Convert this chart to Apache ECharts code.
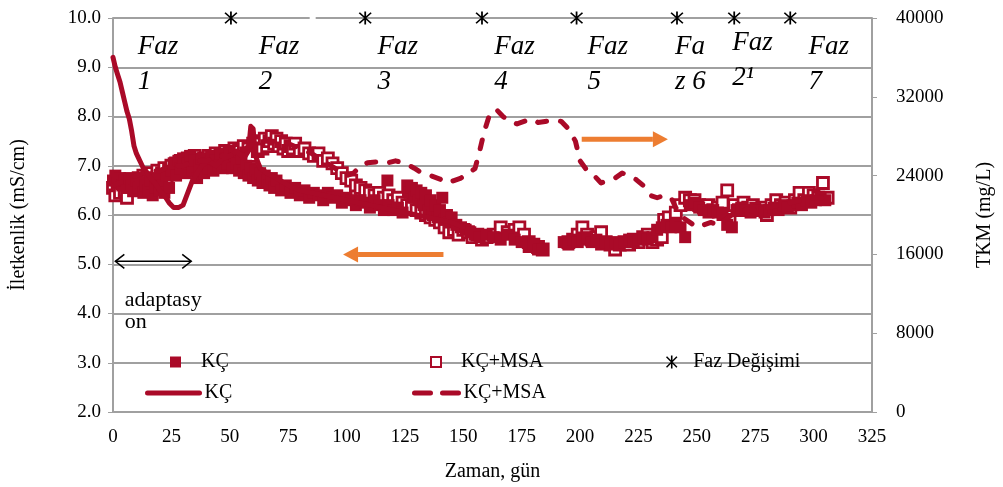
<!DOCTYPE html>
<html><head><meta charset="utf-8">
<script src="https://cdn.jsdelivr.net/npm/echarts@6/dist/echarts.min.js"></script>
<style>html,body{margin:0;padding:0;background:#fff}#c{width:1003px;height:487px}</style>
</head><body><div id="c"></div>
<script>
// Conductivity (mS/cm), left axis: [day, value]
const kcCond = [[0,6.7],[1,6.8],[2,6.65],[3,6.75],[4,6.6],[5,6.7],[6,6.55],[7,6.75],[8,6.6],[9,6.5],[10,6.7],[11,6.55],[12,6.65],[13,6.45],[14,6.6],[15,6.5],[16,6.7],[17,6.4],[18,6.55],[19,6.75],[20,6.5],[21,6.6],[22,6.45],[23,6.8],[24,6.55],[25,6.9],[26,7.05],[27,6.8],[28,7.1],[29,6.95],[30,7.15],[31,6.85],[32,7.05],[33,7.2],[34,6.9],[35,7.1],[36,6.75],[37,7.0],[38,7.15],[39,6.85],[40,7.05],[41,6.95],[42,7.2],[43,6.9],[44,7.1],[45,7.0],[46,7.25],[47,6.95],[48,7.15],[49,7.05],[50,7.3],[51,6.95],[52,7.2],[53,7.05],[54,6.9],[55,7.15],[56,6.85],[57,7.0],[58,6.8],[59,6.95],[60,6.75],[61,6.9],[62,6.7],[63,6.85],[64,6.65],[65,6.8],[66,6.7],[67,6.6],[68,6.75],[69,6.55],[70,6.7],[72,6.5],[74,6.6],[76,6.45],[78,6.55],[80,6.4],[82,6.5],[84,6.35],[86,6.45],[88,6.4],[90,6.3],[92,6.45],[94,6.35],[96,6.4],[98,6.25],[100,6.35],[102,6.3],[104,6.2],[106,6.3],[108,6.25],[110,6.15],[112,6.3],[114,6.2],[116,6.1],[117.5,6.7],[118,6.2],[120,6.1],[122,6.15],[124,6.05],[126,6.6],[127,6.45],[128,6.55],[129,6.35],[130,6.5],[131,6.3],[132,6.45],[133,6.2],[134,6.4],[135,6.1],[136,6.3],[137,6.0],[138,6.2],[139,5.95],[140,6.1],[141,6.35],[142,5.9],[143,6.0],[144,5.85],[145,5.95],[147,5.8],[149,5.75],[151,5.7],[153,5.65],[155,5.6],[157,5.55],[160,5.6],[163,5.55],[166,5.5],[169,5.6],[172,5.5],[175,5.45],[178,5.35],[180,5.4],[182,5.3],[184,5.3],[193,5.45],[195,5.4],[197,5.5],[199,5.45],[201,5.5],[203,5.55],[205,5.45],[207,5.5],[209,5.4],[211,5.45],[213,5.4],[215,5.45],[217,5.4],[219,5.45],[221,5.5],[223,5.45],[225,5.5],[227,5.55],[229,5.5],[231,5.55],[233,5.7],[235,5.75],[237,5.8],[239,5.75],[241,5.8],[243,5.75],[245,5.55],[247,6.2],[249,6.25],[251,6.15],[253,6.1],[255,6.05],[257,6.1],[259,6.05],[261,6.0],[263,5.8],[265,5.75],[267,6.1],[269,6.15],[271,6.1],[273,6.05],[275,6.15],[277,6.1],[279,6.05],[281,6.1],[283,6.15],[285,6.1],[287,6.2],[289,6.15],[291,6.2],[293,6.25],[295,6.2],[297,6.3],[299,6.25],[301,6.3],[303,6.35],[305,6.3]];
const msaCond = [[0,6.55],[1,6.4],[2,6.6],[3,6.45],[4,6.65],[5,6.5],[6,6.35],[7,6.6],[8,6.7],[9,6.5],[10,6.6],[11,6.75],[12,6.55],[13,6.8],[14,6.6],[15,6.7],[16,6.85],[17,6.6],[18,6.75],[19,6.9],[20,6.7],[21,6.85],[22,6.95],[23,6.75],[24,6.9],[25,7.0],[26,6.85],[27,7.05],[28,6.95],[29,7.1],[30,6.9],[31,7.0],[32,7.15],[33,6.95],[34,7.05],[35,7.2],[36,7.0],[37,7.1],[38,6.95],[39,7.15],[40,7.05],[41,7.2],[42,7.0],[43,7.15],[44,7.25],[45,7.05],[46,7.2],[47,7.1],[48,7.3],[49,7.15],[50,7.25],[51,7.1],[52,7.35],[53,7.2],[54,7.3],[55,7.15],[56,7.4],[57,7.25],[58,7.35],[59,7.2],[60,7.45],[61,7.5],[62,7.3],[63,7.45],[64,7.35],[65,7.55],[66,7.4],[67,7.5],[68,7.6],[69,7.45],[70,7.55],[71,7.4],[72,7.5],[73,7.35],[74,7.45],[75,7.3],[76,7.4],[77,7.35],[78,7.45],[80,7.3],[82,7.35],[84,7.25],[86,7.2],[88,7.25],[90,7.1],[92,7.15],[94,7.05],[96,6.95],[98,6.85],[100,6.75],[102,6.7],[104,6.6],[106,6.55],[108,6.5],[110,6.45],[112,6.4],[114,6.45],[116,6.35],[118,6.4],[120,6.3],[122,6.35],[124,6.25],[126,6.2],[128,6.15],[130,6.1],[132,6.05],[134,6.0],[136,5.95],[138,5.9],[140,5.85],[142,5.75],[144,5.65],[146,5.7],[148,5.6],[150,5.7],[152,5.65],[154,5.55],[156,5.6],[158,5.5],[160,5.55],[163,5.6],[166,5.75],[169,5.65],[172,5.7],[174,5.75],[176,5.6],[178,5.45],[180,5.4],[182,5.35],[184,5.3],[195,5.45],[197,5.5],[199,5.6],[201,5.75],[203,5.6],[205,5.5],[207,5.55],[209,5.65],[211,5.45],[213,5.4],[215,5.3],[217,5.4],[219,5.45],[221,5.4],[223,5.5],[225,5.45],[227,5.55],[229,5.6],[231,5.45],[233,5.5],[235,5.55],[236,5.9],[238,5.95],[241,6.05],[243,6.2],[245,6.35],[247,6.3],[249,6.3],[251,6.2],[253,6.15],[255,6.2],[257,6.1],[259,6.15],[261,6.25],[263,6.5],[264,5.9],[266,6.2],[268,6.1],[270,6.25],[272,6.15],[274,6.2],[276,6.1],[278,6.15],[280,6.0],[282,6.2],[284,6.3],[286,6.2],[288,6.25],[290,6.15],[292,6.3],[294,6.45],[296,6.3],[298,6.45],[300,6.4],[302,6.35],[304,6.65],[306,6.35]];
// TKM (mg/L), right axis: [day, value]
const kcTkm = [[0,36000],[1,35000],[2,34250],[3,33500],[4,32500],[5,31500],[6,30500],[7,29750],[8,28500],[9,27000],[10,26250],[11,25750],[12,25250],[13,24750],[14,24500],[16,23750],[18,23250],[20,22500],[22,22000],[24,21250],[26,20750],[28,20750],[30,21000],[32,22250],[34,23500],[36,24250],[38,25000],[41,25500],[44,25000],[47,25750],[50,26000],[53,26500],[56,25750],[58,26500],[59,29000],[60,28750],[61,26000],[63,24750],[66,24250],[70,23750],[75,23000],[80,22500],[85,22250],[90,22000],[95,21750],[100,21500],[105,21250],[110,21000],[115,20750],[120,20500],[125,20250],[130,20000],[135,19750],[140,19500],[145,19250],[150,18750]];
const msaTkm = [[0,23000],[5,23500],[10,24000],[15,24500],[20,24500],[25,25000],[30,25000],[35,25500],[40,25500],[45,26000],[50,26000],[55,26500],[60,27250],[65,27500],[70,27500],[75,27250],[80,26750],[85,26250],[90,25500],[95,24750],[100,24000],[103,24250],[106,25000],[109,25300],[113,25400],[117,25250],[121,25500],[125,25250],[129,24750],[132,24300],[136,24000],[140,23650],[143,23250],[146,23500],[149,23750],[152,24250],[155,24700],[157,26500],[159,28500],[161,30000],[164,30750],[167,30000],[170,29500],[173,29250],[176,29500],[179,29750],[182,29400],[185,29500],[188,29600],[192,29500],[195,28750],[198,27500],[200,25500],[203,24500],[206,24000],[209,23250],[212,23500],[215,23750],[218,24250],[221,24000],[224,23600],[227,23000],[230,22000],[233,21750],[236,22000],[239,21750],[241,20750],[244,19750],[247,19250],[250,18750],[253,19000],[256,19250],[259,19000],[262,19500],[265,20000],[268,20500],[272,20500],[276,20500],[280,20750],[285,21000],[290,21250],[295,21500],[300,21750],[305,21750]];
// Phase change days (drawn on the 10.0 line)
const phaseChangeDays = [50.5, 108, 158, 198.5, 241.5, 266, 290];
const phaseChangeLevel = 10.0;
// Phase labels: first line, second line, day of left edge
const phaseLabelTop = ['Faz','Faz','Faz','Faz','Faz','Fa','Faz','Faz'];
const phaseLabelBottom = ['1','2','3','4','5','z 6','2\u00b9','7'];
const phaseLabelDay = [10.6, 62.4, 113.3, 163.3, 203.2, 240.6, 265.2, 297.8];

const RED = '#AA0A28';
const FONT = 'Liberation Serif';
const GRAY = '#a0a0a0';
const ast = 'path://M4.4,0H5.6V10H4.4Z M0.6,1.4L1.4,0.6L9.4,8.6L8.6,9.4Z M8.6,0.6L9.4,1.4L1.4,9.4L0.6,8.6Z';

const legendText = {fontFamily: FONT, fontSize: 20, color: '#000'};
function mkLegend(name, left, top, w, h, pad, lineType) {
  const l = {data: [name], left: left, top: top, itemWidth: w, itemHeight: h, itemGap: 0,
    textStyle: legendText, formatter: n => pad + n.trim(), selectedMode: false, padding: 0};
  if (lineType) {
    l.itemStyle = {opacity: 0};
    l.lineStyle = {width: 5, color: RED, type: lineType, cap: 'round'};
  }
  return l;
}

const chart = echarts.init(document.getElementById('c'));
const option = {
  animation: false,
  grid: {left: 113, right: 121, top: 18, bottom: 75},
  xAxis: {type: 'value', min: 0, max: 325, interval: 25,
    axisLine: {lineStyle: {color: GRAY, width: 2}}, axisTick: {show: false},
    axisLabel: {fontFamily: FONT, fontSize: 19, color: '#000', margin: 16},
    splitLine: {show: false},
    name: 'Zaman, gün', nameLocation: 'middle', nameGap: 50,
    nameTextStyle: {fontFamily: FONT, fontSize: 20, color: '#000'}},
  yAxis: [
    {type: 'value', min: 2, max: 10, interval: 1, position: 'left',
     axisLine: {show: true, lineStyle: {color: GRAY, width: 2}},
     axisTick: {show: true, length: 5, lineStyle: {color: GRAY}},
     axisLabel: {fontFamily: FONT, fontSize: 19, color: '#000', margin: 12, formatter: v => v.toFixed(1)},
     splitLine: {show: true, lineStyle: {color: GRAY, width: 2}},
     name: 'İletkenlik (mS/cm)', nameLocation: 'middle', nameGap: 84, nameRotate: 90,
     nameTextStyle: {fontFamily: FONT, fontSize: 20, color: '#000'}},
    {type: 'value', min: 0, max: 40000, interval: 8000, position: 'right',
     axisLine: {show: true, lineStyle: {color: GRAY, width: 2}},
     axisTick: {show: true, length: 5, lineStyle: {color: GRAY}},
     axisLabel: {fontFamily: FONT, fontSize: 19, color: '#000', margin: 24, formatter: v => String(v)},
     splitLine: {show: false},
     name: 'TKM (mg/L)', nameLocation: 'middle', nameGap: 103, nameRotate: 90,
     nameTextStyle: {fontFamily: FONT, fontSize: 20, color: '#000'}}
  ],
  legend: [
    mkLegend('KÇ', 170, 352, 11, 11, '   ', null),
    mkLegend('KÇ+MSA', 430, 352, 10, 10, '   ', null),
    mkLegend('Faz Değişimi', 666, 352, 13, 13, '  ', null),
    mkLegend('KÇ ', 145, 383, 52, 5, '', 'solid'),
    mkLegend('KÇ+MSA ', 412, 383, 44, 5, '', [16, 12])
  ],
  series: [
    {name: 'KÇ+MSA', type: 'scatter', yAxisIndex: 0, data: msaCond, symbol: 'rect', symbolSize: 11,
     itemStyle: {color: '#fff', borderColor: RED, borderWidth: 2.8, opacity: 1}},
    {name: 'KÇ', type: 'scatter', yAxisIndex: 0, data: kcCond, symbol: 'rect', symbolSize: 12,
     itemStyle: {color: RED, opacity: 1}},
    {name: 'KÇ ', type: 'line', yAxisIndex: 1, data: kcTkm, symbol: 'none',
     lineStyle: {color: RED, width: 5, cap: 'round', join: 'round'}, itemStyle: {color: RED}},
    {name: 'KÇ+MSA ', type: 'line', yAxisIndex: 1, data: msaTkm, symbol: 'none',
     lineStyle: {color: RED, width: 5, type: [9, 14], cap: 'round', join: 'round'}, itemStyle: {color: RED}},
    {name: 'Faz Değişimi', type: 'scatter', yAxisIndex: 0, clip: false,
     data: phaseChangeDays.map(d => [d, phaseChangeLevel]), symbol: ast, symbolSize: 13,
     itemStyle: {color: '#000', opacity: 1}}
  ]
};
chart.setOption(option);

function px(d, v) { return chart.convertToPixel({xAxisIndex: 0, yAxisIndex: 0}, [d, v]); }
const g = [];
// phase labels
phaseLabelDay.forEach((d, i) => {
  const up = phaseLabelBottom[i].indexOf('\u00b9') >= 0 ? -4 : 0;
  const a = px(d, 9.41), b = px(d, 8.70);
  g.push({type: 'text', x: a[0], y: a[1] + up, style: {text: phaseLabelTop[i], font: 'italic 27px "Liberation Serif"', fill: '#000', textVerticalAlign: 'middle'}});
  g.push({type: 'text', x: b[0], y: b[1] + up, style: {text: phaseLabelBottom[i], font: 'italic 27px "Liberation Serif"', fill: '#000', textVerticalAlign: 'middle'}});
});
// adaptation double arrow
const d1 = px(1, 5.06), d2 = px(33.5, 5.06);
g.push({type: 'polyline', shape: {points: [d1, d2]}, style: {stroke: '#000', lineWidth: 1.5}});
g.push({type: 'polyline', shape: {points: [[d1[0] + 9, d1[1] - 7], d1, [d1[0] + 9, d1[1] + 7]]}, style: {stroke: '#000', lineWidth: 1.5, fill: null}});
g.push({type: 'polyline', shape: {points: [[d2[0] - 9, d2[1] - 7], d2, [d2[0] - 9, d2[1] + 7]]}, style: {stroke: '#000', lineWidth: 1.5, fill: null}});
const t1 = px(5, 4.27), t2 = px(5, 3.82);
g.push({type: 'text', x: t1[0], y: t1[1], style: {text: 'adaptasy', font: '22px "Liberation Serif"', fill: '#000', textVerticalAlign: 'middle'}});
g.push({type: 'text', x: t2[0], y: t2[1], style: {text: 'on', font: '22px "Liberation Serif"', fill: '#000', textVerticalAlign: 'middle'}});
// orange arrows
function orangeArrow(from, to) {
  const a = px(from[0], from[1]), b = px(to[0], to[1]);
  const dir = b[0] > a[0] ? 1 : -1;
  const hb = [b[0] - dir * 15, b[1]];
  g.push({type: 'polyline', shape: {points: [a, hb]}, style: {stroke: '#ED7D31', lineWidth: 5}});
  g.push({type: 'polygon', shape: {points: [b, [hb[0], b[1] - 8], [hb[0], b[1] + 8]]}, style: {fill: '#ED7D31'}});
}
orangeArrow([141.5, 5.2], [98.5, 5.2]);
orangeArrow([200.7, 7.54], [237.6, 7.54]);
// small break in the top border line
const gb = px(85.5, 10);
g.push({type: 'rect', shape: {x: gb[0] - 3, y: gb[1] - 3, width: 6, height: 6}, style: {fill: '#fff'}, z: 0});
chart.setOption({graphic: g});
</script></body></html>
